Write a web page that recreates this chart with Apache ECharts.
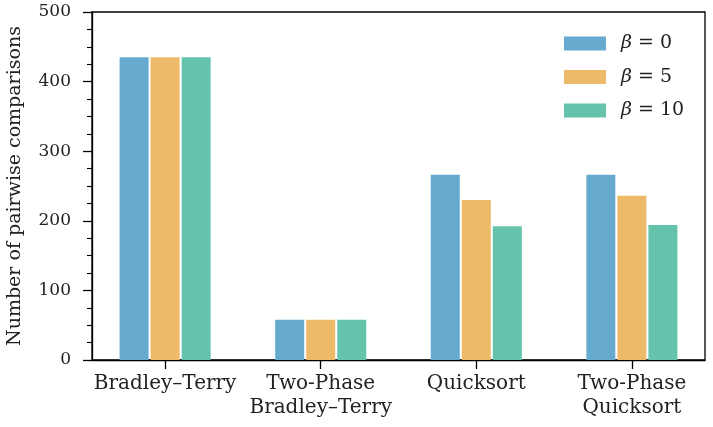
<!DOCTYPE html>
<html>
<head>
<meta charset="utf-8">
<script src="https://cdn.jsdelivr.net/npm/echarts@6/dist/echarts.min.js"></script>
<style>
  html, body { margin: 0; padding: 0; background: #fff; }
  #main { width: 713px; height: 427px; }
</style>
</head>
<body>
<div id="main"></div>
<script>
// categories and values
const categories = ['Bradley–Terry', 'Two-Phase\nBradley–Terry', 'Quicksort', 'Two-Phase\nQuicksort'];
const seriesNames = ['β = 0', 'β = 5', 'β = 10'];
const beta0 = [435, 58, 266, 266];
const beta5 = [435, 58, 230, 236];
const beta10 = [435, 58, 192, 194];
const yTicks = [0, 100, 200, 300, 400, 500];

const colors = ['#67aacf', '#edba6a', '#65c3ac'];
const font = 'DejaVu Serif';
const catPos = categories.map((c, i) => i);

function toPoints(vals) {
  return vals.map((v, i) => [catPos[i], v]);
}

const chart = echarts.init(document.getElementById('main'), null, { renderer: 'canvas' });

const option = {
  animation: false,
  color: colors,
  textStyle: { fontFamily: font },
  grid: {
    left: 92,
    right: 8,
    top: 12,
    bottom: 67,
    outerBoundsMode: 'none',
    show: true,
    borderColor: '#000',
    borderWidth: 1.3
  },
  legend: {
    orient: 'vertical',
    left: 559,
    top: 29,
    itemWidth: 42,
    itemHeight: 14,
    itemGap: 14.5,
    icon: 'rect',
    data: seriesNames,
    formatter: name => '{i|β}' + name.slice(1),
    textStyle: {
      fontFamily: font,
      fontSize: 19,
      color: '#222',
      padding: [0, 0, 0, 10],
      rich: {
        i: { fontFamily: font, fontStyle: 'italic', fontSize: 19, color: '#222' }
      }
    }
  },
  xAxis: {
    type: 'value',
    min: -0.47,
    max: 3.47,
    splitLine: { show: false },
    axisLine: { show: true, onZero: false, lineStyle: { color: '#000', width: 1.3 } },
    axisTick: {
      show: true,
      length: 9,
      customValues: catPos,
      lineStyle: { color: '#000', width: 1.3 }
    },
    axisLabel: {
      customValues: catPos,
      formatter: v => categories[Math.round(v)],
      fontFamily: font,
      fontSize: 20,
      lineHeight: 24,
      color: '#222',
      margin: 12
    }
  },
  yAxis: {
    type: 'value',
    min: 0,
    max: 500,
    interval: 100,
    name: 'Number of pairwise comparisons',
    nameLocation: 'middle',
    nameGap: 67,
    nameTextStyle: { fontFamily: font, fontSize: 19, color: '#222' },
    splitLine: { show: false },
    axisLine: { show: true, onZero: false, lineStyle: { color: '#000', width: 1.3 } },
    axisTick: { show: true, inside: false, length: 9, lineStyle: { color: '#000', width: 1.3 } },
    minorTick: { show: true, splitNumber: 4, length: 5, lineStyle: { color: '#000', width: 1.1 } },
    axisLabel: {
      fontFamily: font,
      fontSize: 17,
      color: '#222',
      margin: 21,
      customValues: yTicks
    }
  },
  series: [
    { name: seriesNames[0], type: 'bar', data: toPoints(beta0), barWidth: 29, barGap: '7%' },
    { name: seriesNames[1], type: 'bar', data: toPoints(beta5), barWidth: 29, barGap: '7%' },
    { name: seriesNames[2], type: 'bar', data: toPoints(beta10), barWidth: 29, barGap: '7%' }
  ]
};

chart.setOption(option);
</script>
</body>
</html>
